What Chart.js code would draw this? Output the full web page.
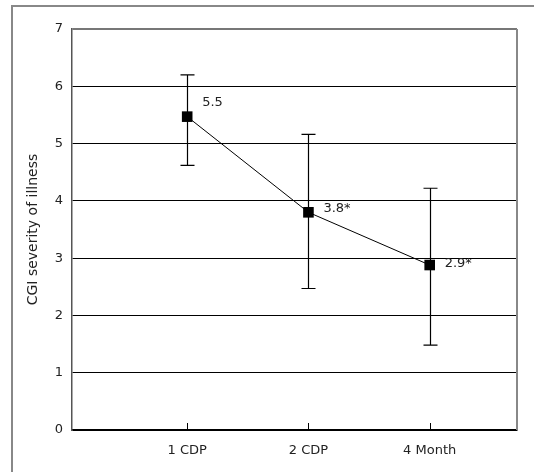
<!DOCTYPE html>
<html>
<head>
<meta charset="utf-8">
<script src="https://cdn.jsdelivr.net/npm/chart.js@4"></script>
<style>
  html, body { margin: 0; padding: 0; background: #fff; }
  #wrap { width: 534px; height: 472px; }
</style>
</head>
<body>
<div id="wrap"><canvas id="cgiChart" width="534" height="472"></canvas></div>
<script>
// CGI severity over time
const categories = ['1 CDP', '2 CDP', '4 Month'];
const meanValues = [5.47, 3.8, 2.88];
const errLow = [4.62, 2.47, 1.48];
const errHigh = [6.2, 5.16, 4.22];
const pointLabels = ['5.5', '3.8*', '2.9*'];
const yTicks = [0, 1, 2, 3, 4, 5, 6, 7];

const FONT = '"DejaVu Sans", sans-serif';

// outer frame + right plot border
const framePlugin = {
    id: 'frame',
    beforeDraw(chart) {
        const ctx = chart.ctx;
        ctx.save();
        ctx.strokeStyle = '#888';
        ctx.lineWidth = 2;
        ctx.beginPath();
        ctx.moveTo(12, 472);
        ctx.lineTo(12, 6);
        ctx.lineTo(534, 6);
        ctx.stroke();
        ctx.restore();
    },
    afterDraw(chart) {
        const ctx = chart.ctx;
        const a = chart.chartArea;
        ctx.save();
        ctx.strokeStyle = '#888';
        ctx.lineWidth = 2;
        ctx.beginPath();
        ctx.moveTo(a.right, a.top);
        ctx.lineTo(a.right, a.bottom);
        ctx.stroke();
        // small inner ticks on x axis
        const xs = chart.scales.x;
        ctx.strokeStyle = '#000';
        ctx.lineWidth = 1;
        categories.forEach((c, i) => {
            const px = Math.round(xs.getPixelForValue(i + 1)) + 0.5;
            ctx.beginPath();
            ctx.moveTo(px, a.bottom);
            ctx.lineTo(px, a.bottom - 7);
            ctx.stroke();
        });
        ctx.restore();
    }
};

// error bars drawn through the scales
const errorBarPlugin = {
    id: 'errorBars',
    beforeDatasetsDraw(chart) {
        const ctx = chart.ctx;
        const xs = chart.scales.x, ys = chart.scales.y;
        ctx.save();
        ctx.strokeStyle = '#000';
        ctx.lineWidth = 1.2;
        meanValues.forEach((v, i) => {
            const px = Math.round(xs.getPixelForValue(i + 1)) + 0.5;
            const yLo = ys.getPixelForValue(errLow[i]);
            const yHi = ys.getPixelForValue(errHigh[i]);
            ctx.beginPath();
            ctx.moveTo(px, yLo);
            ctx.lineTo(px, yHi);
            ctx.moveTo(px - 7, yLo);
            ctx.lineTo(px + 7, yLo);
            ctx.moveTo(px - 7, yHi);
            ctx.lineTo(px + 7, yHi);
            ctx.stroke();
        });
        ctx.restore();
    }
};

const labelPlugin = {
    id: 'valueLabels',
    afterDatasetsDraw(chart) {
        const ctx = chart.ctx;
        const meta = chart.getDatasetMeta(0);
        const dy = [-14, -4, -1];
        ctx.save();
        ctx.fillStyle = '#222';
        ctx.font = '13px ' + FONT;
        ctx.textBaseline = 'middle';
        meta.data.forEach((pt, i) => {
            ctx.fillText(pointLabels[i], pt.x + 15, pt.y + dy[i]);
        });
        ctx.restore();
    }
};

new Chart(document.getElementById('cgiChart').getContext('2d'), {
    type: 'line',
    data: {
        datasets: [{
            data: meanValues.map((v, i) => ({ x: i + 1, y: v })),
            borderColor: '#000',
            borderWidth: 1,
            backgroundColor: '#000',
            pointStyle: 'rect',
            pointRadius: 7.5,
            pointBorderWidth: 0,
            tension: 0
        }]
    },
    options: {
        responsive: false,
        animation: false,
        layout: { padding: { top: 29, right: 17, left: 25, bottom: 0 } },
        plugins: { legend: { display: false }, tooltip: { enabled: false } },
        scales: {
            x: {
                type: 'linear',
                min: 0.05,
                max: 3.72,
                afterBuildTicks: s => { s.ticks = categories.map((c, i) => ({ value: i + 1 })); },
                afterFit: s => { s.height = 42; },
                grid: { display: false },
                border: { color: '#000', width: 1.5 },
                ticks: {
                    callback: (v) => categories[v - 1],
                    color: '#222',
                    font: { family: FONT, size: 13 },
                    padding: 5,
                    maxRotation: 0
                }
            },
            y: {
                min: 0,
                max: 7,
                afterBuildTicks: s => { s.ticks = yTicks.map(v => ({ value: v })); },
                afterFit: s => { s.width = 47; },
                grid: {
                    color: ctx => ctx.tick && ctx.tick.value === 7 ? '#777' : '#000',
                    lineWidth: ctx => ctx.tick && ctx.tick.value === 7 ? 2 : 1,
                    drawTicks: false
                },
                border: { color: '#555', width: 1.5 },
                ticks: {
                    color: '#222',
                    font: { family: FONT, size: 13 },
                    padding: 9
                },
                title: {
                    display: true,
                    text: 'CGI severity of illness',
                    color: '#222',
                    font: { family: FONT, size: 14 },
                    padding: { top: 0, bottom: 0 }
                }
            }
        }
    },
    plugins: [framePlugin, errorBarPlugin, labelPlugin]
});
</script>
</body>
</html>
